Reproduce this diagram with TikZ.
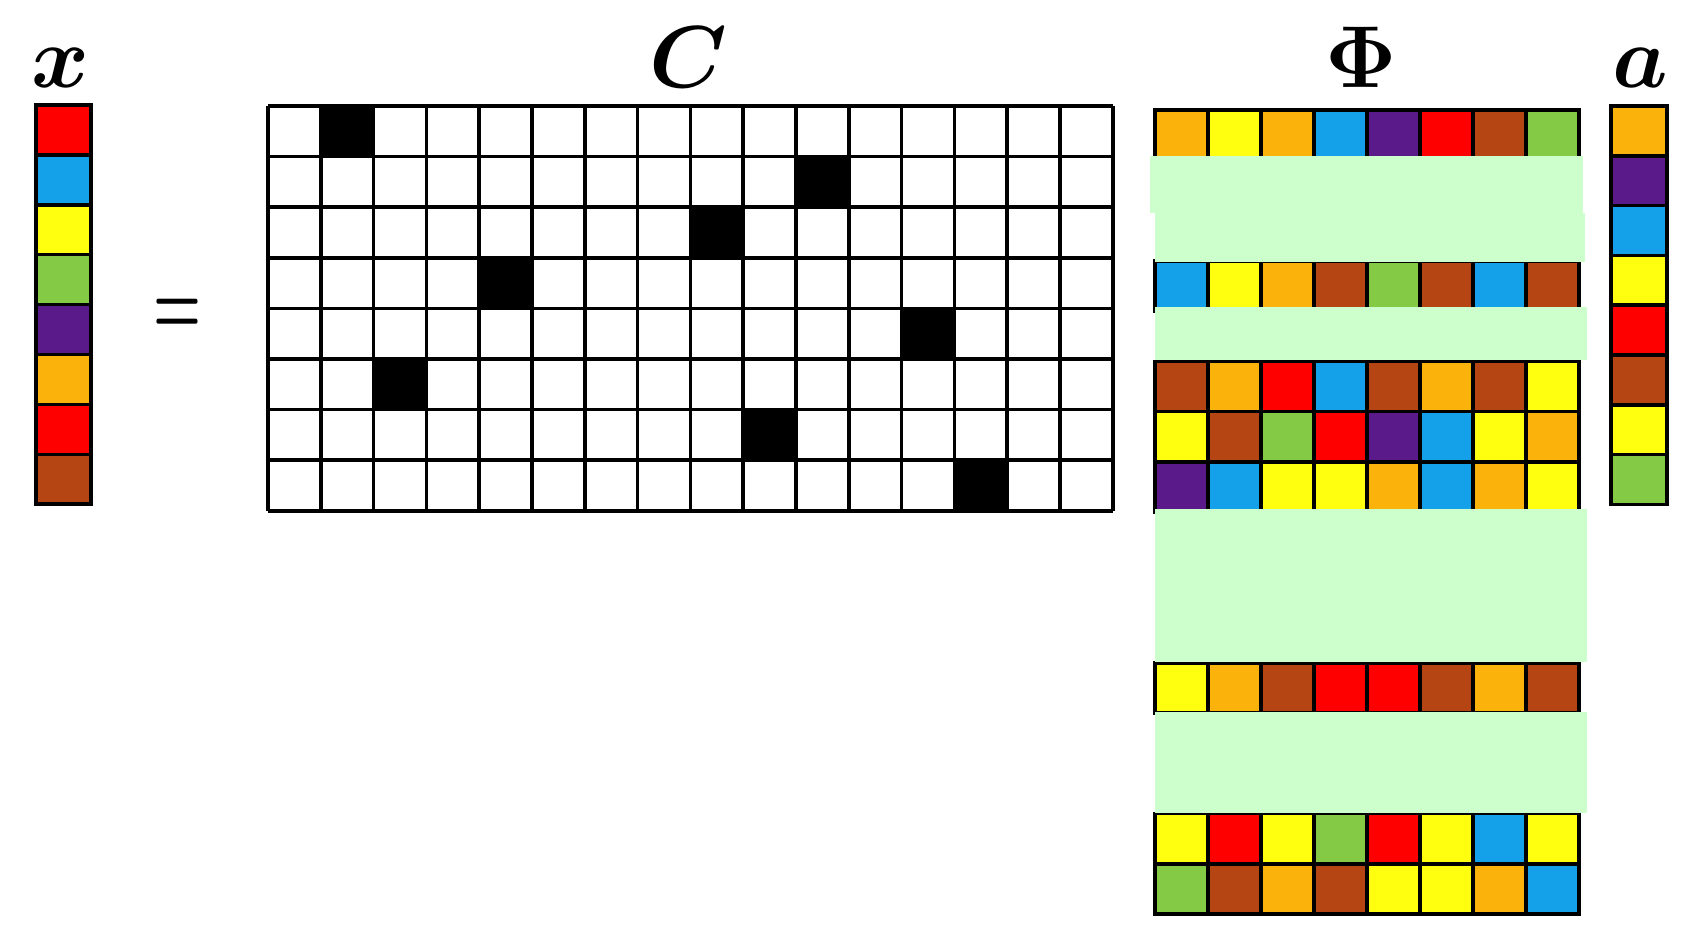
\documentclass[tikz,border=0pt]{standalone}
\usepackage{fix-cm}
\definecolor{mred}{HTML}{FE0000}
\definecolor{mblue}{HTML}{15A0EA}
\definecolor{myellow}{HTML}{FFFF0F}
\definecolor{mgreen}{HTML}{84CA45}
\definecolor{mpurple}{HTML}{5A1A8A}
\definecolor{morange}{HTML}{FBB20A}
\definecolor{mbrown}{HTML}{B54512}
\definecolor{mmint}{HTML}{CCFFCC}
\begin{document}
\begin{tikzpicture}[x=0.01cm,y=-0.01cm,
    cell/.style={draw=black,line width=1pt},
    gridline/.style={draw=black,line width=1pt},
    band/.style={fill=mmint,draw=none},
    lbl/.style={anchor=base,font=\fontsize{25}{30}\selectfont\boldmath}]
  \useasboundingbox (0,0) rectangle (1702,950);
  % labels
  \node[lbl] (xlab) at (60,87) {$x$};
  \node[lbl] (clab) at (688,87) {$C$};
  \node[lbl] (philab) at (1361,87) {$\Phi$};
  \node[lbl] (alab) at (1640,87) {$a$};
  \node[font=\fontsize{26}{30}\selectfont\boldmath] (eq) at (178,317) {\scalebox{0.6}[1]{$=$}};
  % x
  \foreach \c [count=\i from 0] in {mred,mblue,myellow,mgreen,mpurple,morange,mred,mbrown}
    \draw[cell,fill=\c] (36,105+\i*49.9) rectangle +(55,49.9);
  % a
  \foreach \c [count=\i from 0] in {morange,mpurple,mblue,myellow,mred,mbrown,myellow,mgreen}
    \draw[cell,fill=\c] (1611,106+\i*49.8) rectangle +(56,49.8);
  % C
  \foreach \r/\k in {0/1,1/10,2/8,3/4,4/12,5/2,6/9,7/13}
    \fill (268+\k*52.8,106+\r*50.6) rectangle +(52.8,50.6);
  \foreach \i in {0,...,16}
    \draw[gridline] (268+\i*52.8,106) -- +(0,405);
  \foreach \j in {0,...,8}
    \draw[gridline] (268,106+\j*50.6) -- +(845,0);
  % Phi
  \foreach \r/\row in {0/{morange,myellow,morange,mblue,mpurple,mred,mbrown,mgreen},
      3/{mblue,myellow,morange,mbrown,mgreen,mbrown,mblue,mbrown},
      5/{mbrown,morange,mred,mblue,mbrown,morange,mbrown,myellow},
      6/{myellow,mbrown,mgreen,mred,mpurple,mblue,myellow,morange},
      7/{mpurple,mblue,myellow,myellow,morange,mblue,morange,myellow},
      11/{myellow,morange,mbrown,mred,mred,mbrown,morange,mbrown},
      14/{myellow,mred,myellow,mgreen,mred,myellow,mblue,myellow},
      15/{mgreen,mbrown,morange,mbrown,myellow,myellow,morange,mblue}}
    \foreach \c [count=\i from 0] in \row
      \draw[cell,fill=\c] (1155+\i*53,110+\r*50.25) rectangle +(53,50.25);
  \fill[band] (1150,156) rectangle (1583,213);
  \fill[band] (1155,213) rectangle (1585,262);
  \fill[band] (1155,307) rectangle (1587,360);
  \fill[band] (1155,509) rectangle (1587,662);
  \fill[band] (1155,712) rectangle (1587,813);
\end{tikzpicture}
\end{document}
